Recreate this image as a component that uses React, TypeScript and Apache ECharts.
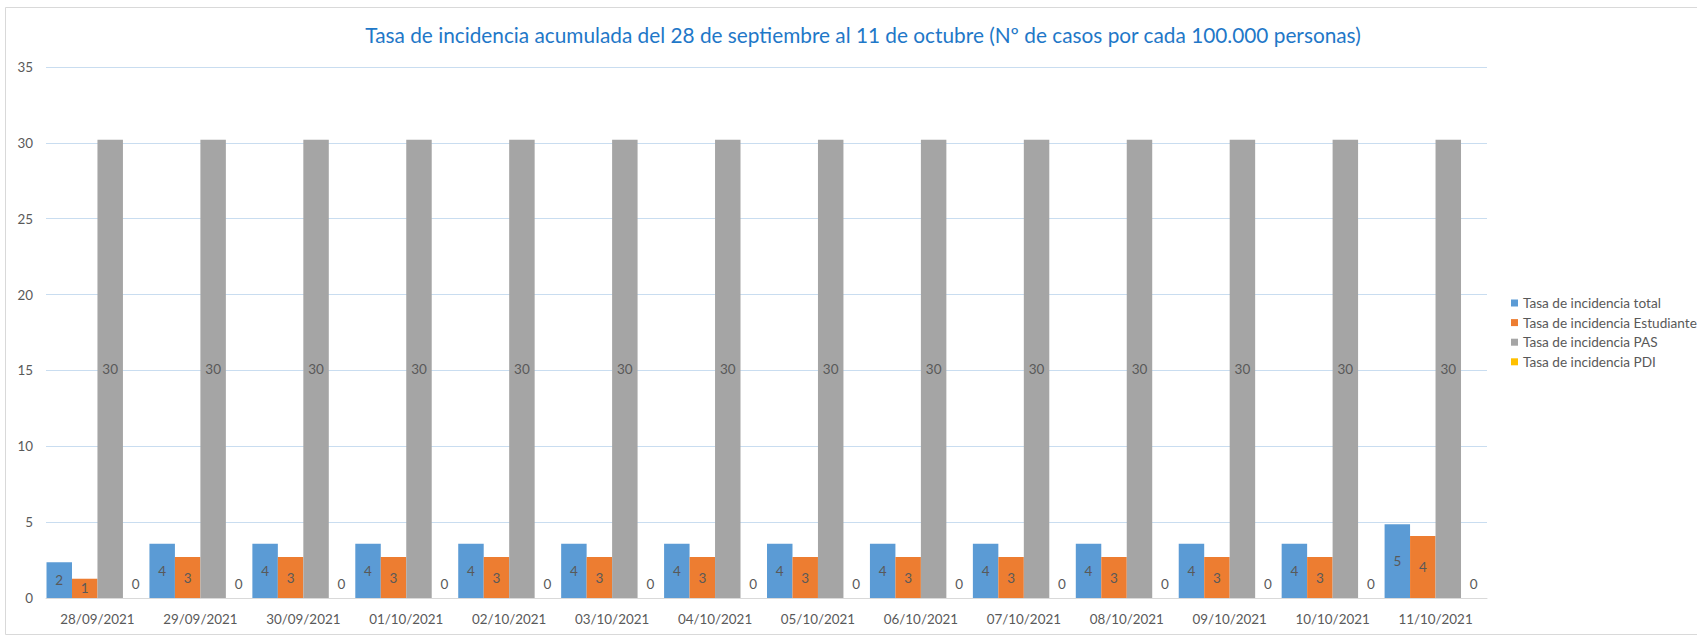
import React, { useEffect, useRef } from "react";
import * as echarts from "echarts";

const categories = [
  "28/09/2021", "29/09/2021", "30/09/2021", "01/10/2021", "02/10/2021", "03/10/2021", "04/10/2021",
  "05/10/2021", "06/10/2021", "07/10/2021", "08/10/2021", "09/10/2021", "10/10/2021", "11/10/2021",
];
const tasaTotal = [2.35, 3.58, 3.58, 3.58, 3.58, 3.58, 3.58, 3.58, 3.58, 3.58, 3.58, 3.58, 3.58, 4.86];
const tasaEstudiante = [1.27, 2.7, 2.7, 2.7, 2.7, 2.7, 2.7, 2.7, 2.7, 2.7, 2.7, 2.7, 2.7, 4.09];
const tasaPAS = [30.2, 30.2, 30.2, 30.2, 30.2, 30.2, 30.2, 30.2, 30.2, 30.2, 30.2, 30.2, 30.2, 30.2];
const tasaPDI = [0, 0, 0, 0, 0, 0, 0, 0, 0, 0, 0, 0, 0, 0];
const seriesNames = [
  "Tasa de incidencia total",
  "Tasa de incidencia Estudiante",
  "Tasa de incidencia PAS",
  "Tasa de incidencia PDI",
];
const colors = ["#5B9BD5", "#ED7D31", "#A5A5A5", "#FFC000"];
const titleText =
  "Tasa de incidencia acumulada del 28 de septiembre al 11 de octubre (Nº de casos por cada 100.000 personas)";

const FONT = "Lato";

export default function App() {
  const ref = useRef<HTMLDivElement>(null);
  useEffect(() => {
    if (!ref.current) return;
    const chart = echarts.init(ref.current, null, { renderer: "svg" });
    const labelFmt = (p: any) => String(Math.round(p.value));
    const mk = (name: string, data: number[], color: string, zero = false) => ({
      name,
      type: "bar",
      data,
      itemStyle: { color },
      barGap: "0%",
      barCategoryGap: "1%",
      label: {
        show: true,
        position: zero ? "top" : "inside",
        distance: zero ? 7 : 5,
        color: "#595959",
        fontFamily: FONT,
        fontSize: 13.5,
        formatter: labelFmt,
      },
    });
    chart.setOption({
      animation: false,
      backgroundColor: "#ffffff",
      title: {
        text: titleText,
        left: 858,
        textAlign: "center",
        top: 19,
        textStyle: { color: "#1F78C8", fontFamily: FONT, fontSize: 20.8, fontWeight: "normal" },
      },
      graphic: [
        {
          type: "rect",
          shape: { x: 5.5, y: 7.5, width: 1720, height: 627 },
          style: { fill: "none", stroke: "#D9D9D9", lineWidth: 1 },
          silent: true,
        },
      ],
      legend: {
        orient: "vertical",
        left: 1506,
        top: 291,
        itemWidth: 7,
        itemHeight: 7,
        itemGap: 5.6,
        icon: "rect",
        textStyle: { color: "#595959", fontFamily: FONT, fontSize: 13.6, lineHeight: 13.8 },
        data: seriesNames,
      },
      grid: { left: 46, right: 210, top: 67, bottom: 38, containLabel: false },
      xAxis: {
        type: "category",
        data: categories,
        axisLine: { show: true, lineStyle: { color: "#D9D9D9", width: 1 } },
        axisTick: { show: false },
        axisLabel: { color: "#595959", fontFamily: FONT, fontSize: 13.4, margin: 14 },
      },
      yAxis: {
        type: "value",
        min: 0,
        max: 35,
        interval: 5,
        axisLine: { show: false },
        axisTick: { show: false },
        axisLabel: { color: "#595959", fontFamily: FONT, fontSize: 13.4, margin: 13 },
        splitLine: { lineStyle: { color: "#C9DDF0", width: 1 } },
      },
      series: [
        mk(seriesNames[0], tasaTotal, colors[0]),
        mk(seriesNames[1], tasaEstudiante, colors[1]),
        mk(seriesNames[2], tasaPAS, colors[2]),
        mk(seriesNames[3], tasaPDI, colors[3], true),
      ],
    });
    return () => chart.dispose();
  }, []);
  return (
    <div
      ref={ref}
      style={{ position: "fixed", left: 0, top: 0, width: 1697, height: 636 }}
    />
  );
}
